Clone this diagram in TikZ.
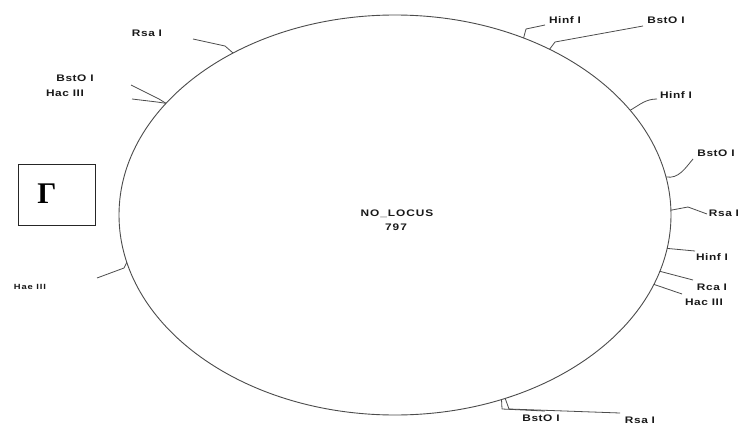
\documentclass[tikz,border=0pt]{standalone}
\usepackage{fontspec}
\setmainfont{Liberation Sans}
\newfontfamily\labfont[LetterSpace=6,FakeStretch=1.25]{Liberation Sans}
\newfontfamily\widefont[LetterSpace=10,FakeStretch=1.25]{Liberation Sans}
\newfontfamily\smallfont[LetterSpace=12,FakeStretch=1.25]{Liberation Sans}
\newfontfamily\greekfont{Liberation Serif}
\usetikzlibrary{shapes.geometric}
\begin{document}
\begin{tikzpicture}[x=1pt,y=-1pt,
  lbl/.style={font=\labfont\bfseries\fontsize{9.5}{10}\selectfont, text=black!90, inner sep=0pt},
  slbl/.style={font=\smallfont\bfseries\fontsize{7.5}{8}\selectfont, text=black!90, inner sep=0pt},
  clbl/.style={font=\widefont\bfseries\fontsize{9.5}{10}\selectfont, text=black!90, inner sep=0pt},
  tick/.style={draw=black!70, line width=0.8pt, line join=round},
  ring/.style={ellipse, draw=black!70, line width=0.9pt, minimum width=552pt, minimum height=400pt, inner sep=0pt, outer sep=0pt},
  framebox/.style={draw=black!85, line width=1pt, minimum width=77pt, minimum height=61pt, inner sep=0pt},
]
\useasboundingbox (0,0) rectangle (741,425);
\fill[white] (0,0) rectangle (741,425);

% plasmid ring
\node[ring] (plasmid) at (395,215) {};

% centre labels
\node[clbl] (name) at (397,214) {NO\_LOCUS};
\node[clbl] (len) at (396,227) {797};

% frame with Gamma
\node[framebox] (frame) at (56.5,194.5) {};
\node[font=\greekfont\bfseries\fontsize{30}{30}\selectfont, inner sep=0pt] (gamma) at (47,194) {Γ};

% labels
\node[lbl] (rsa1) at (147,33) {Rsa I};
\node[lbl] (bst1) at (75,78) {BstO I};
\node[lbl] (hac1) at (65,93) {Hac III};
\node[lbl] (hinf1) at (565,20) {Hinf I};
\node[lbl] (bst2) at (666,20) {BstO I};
\node[lbl] (hinf2) at (676,95) {Hinf I};
\node[lbl] (bst3) at (716,153) {BstO I};
\node[lbl] (rsa2) at (724,213) {Rsa I};
\node[lbl] (hinf3) at (712,257) {Hinf I};
\node[lbl] (rca1) at (712,287) {Rca I};
\node[lbl] (hac2) at (704,302) {Hac III};
\node[slbl] (hae1) at (30,287) {Hae III};
\node[lbl] (bst4) at (541,418) {BstO I};
\node[lbl] (rsa3) at (640,420) {Rsa I};

% connector points
\coordinate (b1) at (225,46);   \coordinate (e1) at (193,39);
\coordinate (b2) at (159,99);   \coordinate (e2) at (131,85);
\coordinate (b3) at (157,102);  \coordinate (e3) at (132,99);
\coordinate (b4) at (526,29);   \coordinate (e4) at (545,25);
\coordinate (b5) at (555,42);   \coordinate (e5) at (643,26);
\coordinate (e6) at (657,99);
\coordinate (e7) at (693,159);
\coordinate (b8) at (688,207);  \coordinate (e8) at (707,214);
\coordinate (e9) at (695,251);
\coordinate (e10) at (693,280);
\coordinate (e11) at (682,294);
\coordinate (b12) at (124,268); \coordinate (e12) at (97,278);
\coordinate (b13) at (502,409); \coordinate (e13) at (545,411);
\coordinate (b14) at (509,409); \coordinate (e14) at (620,413);

% connectors
\draw[tick] (plasmid.135.7) -- (b1) -- (e1);
\draw[tick] (plasmid.154.2) -- (b2) -- (e2);
\draw[tick] (plasmid.154.8) -- (b3) -- (e3);
\draw[tick] (plasmid.54.5) -- (b4) -- (e4);
\draw[tick] (plasmid.47.0) -- (b5) -- (e5);
\draw[tick] (plasmid.24.9) to[out=30,in=180] (e6);
\draw[tick] (plasmid.8.8) to[out=-10,in=230] (e7);
\draw[tick] (plasmid.1.7) -- (b8) -- (e8);
\draw[tick] (plasmid.-7.3) -- (e9);
\draw[tick] (plasmid.-12.0) -- (e10);
\draw[tick] (plasmid.-15.7) -- (e11);
\draw[tick] (plasmid.190.6) -- (b12) -- (e12);
\draw[tick] (plasmid.-60.7) -- (b13) -- (e13);
\draw[tick] (plasmid.-59.1) -- (b14) -- (e14);
\end{tikzpicture}
\end{document}
